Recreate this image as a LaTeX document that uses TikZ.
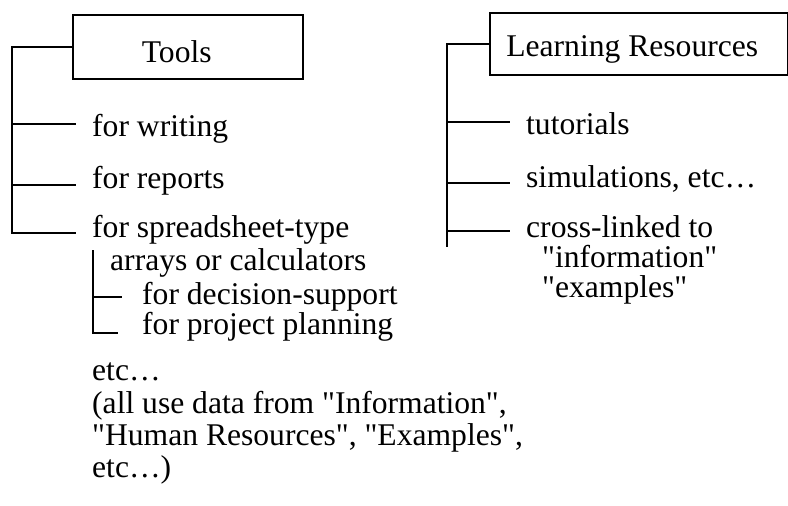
\documentclass[tikz,border=0pt]{standalone}
\usepackage{fontspec}
\setmainfont{Liberation Serif}[Ligatures=TeXOff]
\begin{document}
\begin{tikzpicture}[x=1pt,y=-1pt,
  line/.style={line width=1.8pt},
  boxnode/.style={draw,line width=1.5pt,inner sep=0pt,anchor=north west},
  item/.style={anchor=base west,inner sep=0pt}]
\useasboundingbox (0,0) rectangle (788,506);
\fontsize{31.6}{32}\selectfont
% boxes
\node[boxnode,minimum width=230pt,minimum height=64pt] (tools) at (72,14) {\raisebox{-5pt}[\height][\depth]{Tools}\kern22pt};
\node[boxnode,minimum width=298pt,minimum height=62pt] (lr) at (489,12) {\raisebox{-6pt}[\height][\depth]{Learning Resources}\kern13pt};
% left items
\node[item] (w) at (92,136) {for writing};
\node[item] (r) at (92,188) {for reports};
\node[item] (s) at (92,237) {for spreadsheet-type};
\node[item] (a) at (110,270) {arrays or calculators};
\node[item] (d) at (142,304) {for decision-support};
\node[item] (p) at (142,334) {for project planning};
\node[item] (e) at (92,380) {etc\ldots};
\node[item,align=left] (n) at (92,477) {(all use data from "Information",\\"Human Resources", "Examples",\\etc\ldots)};
% right items
\node[item] (t) at (526,134) {tutorials};
\node[item] (si) at (526,187) {simulations, etc\ldots};
\node[item] (c) at (526,237) {cross-linked to};
\node[item] (i) at (542,267) {"information"};
\node[item] (x) at (542,297) {"examples"};
% coordinates
\coordinate (lbot) at (12,233);
\coordinate (lw) at (76,124);
\coordinate (lr1) at (76,185);
\coordinate (ls) at (76,233);
\coordinate (stop) at (93,250);
\coordinate (sd) at (122,297);
\coordinate (sp) at (118,333);
\coordinate (rbot) at (447,247);
\coordinate (rt) at (510,122);
\coordinate (rs) at (510,183);
\coordinate (rc) at (510,231);
% left tree
\draw[line] (tools.west) -| (lbot) -- (ls);
\draw[line] (lw -| lbot) -- (lw);
\draw[line] (lr1 -| lbot) -- (lr1);
% sub tree
\draw[line] (stop) |- (sp);
\draw[line] (sd -| stop) -- (sd);
% right tree
\draw[line] (lr.west) -| (rbot);
\draw[line] (rt -| rbot) -- (rt);
\draw[line] (rs -| rbot) -- (rs);
\draw[line] (rc -| rbot) -- (rc);
\end{tikzpicture}
\end{document}
